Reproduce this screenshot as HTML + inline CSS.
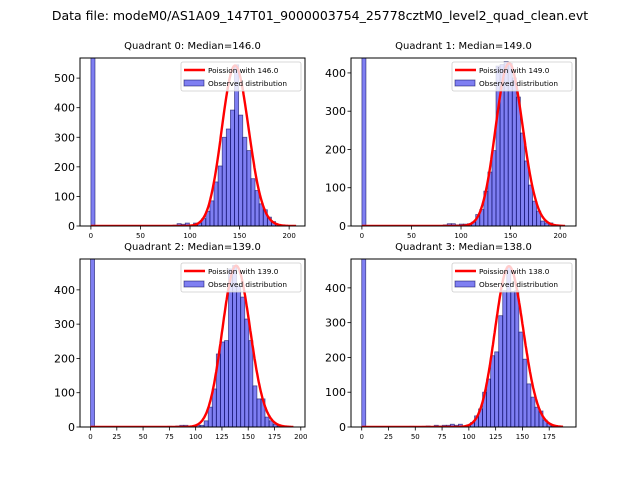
<!DOCTYPE html>
<html><head><meta charset="utf-8"><style>
body{margin:0;background:#fff;font-family:"Liberation Sans","DejaVu Sans",sans-serif}
</style></head><body>
<svg id="fig" width="640" height="480" xmlns="http://www.w3.org/2000/svg" font-family="DejaVu Sans, Liberation Sans, sans-serif">
<rect width="640" height="480" fill="#fff"/>
<text x="320" y="20" text-anchor="middle" font-size="12.5">Data file: modeM0/AS1A09_147T01_9000003754_25778cztM0_level2_quad_clean.evt</text>
</svg>
<script>
const medians=[146.0,149.0,139.0,138.0];
const binMax=[207,205,193,188];
const q0Counts=[1500,0,0,0,2,1,0,0,0,0,0,0,0,0,0,0,1,2,1,0,3,8,6,10,3,10,10,25,50,85,149,203,300,328,392,545,375,300,255,160,120,75,55,30,15,5,3,2,1,0];
const q1Counts=[1500,0,0,0,0,0,0,0,0,0,0,0,0,0,0,0,0,0,0,1,3,6,6,3,5,5,6,10,30,43,91,141,197,418,422,430,425,387,337,243,170,107,65,39,13,8,8,3,0,0];
const q2Counts=[1500,0,0,0,0,0,0,0,0,0,0,0,0,0,0,0,0,0,0,2,1,3,5,5,3,3,5,5,18,58,111,213,248,252,461,471,412,379,315,252,120,82,82,29,18,8,3,3,1,0];
const q3Counts=[1500,0,0,0,0,0,0,0,0,0,0,1,2,1,1,2,3,1,5,3,5,5,8,5,8,3,5,13,32,52,100,138,205,216,320,392,460,390,392,273,195,124,86,57,46,20,10,3,2,0];
const counts=[q0Counts,q1Counts,q2Counts,q3Counts];
const poissonPeak=[542,425,470,462];
const curveStretch=[1.12,1.12,1.12,1.12];
const xTicks=[[0,50,100,150,200],[0,50,100,150,200],[0,25,50,75,100,125,150,175,200],[0,25,50,75,100,125,150,175]];
const yTicks=[[0,100,200,300,400,500],[0,100,200,300,400],[0,100,200,300,400],[0,100,200,300,400]];
const xDomain=[[-11,216],[-11,216],[-10,204],[-10,200]];
const yMax=[568,439,490,483];
const boxes=[[80,58,225,168],[351,58,225,168],[80,259,225,168],[351,259,225,168]];
const NS="http://www.w3.org/2000/svg";
const svg=document.getElementById('fig');
function mk(tag,attrs,parent){const e=document.createElementNS(NS,tag);for(const k in attrs)e.setAttribute(k,attrs[k]);(parent||svg).appendChild(e);return e;}
function lgamma(z){const c=[76.18009172947146,-86.50532032941677,24.01409824083091,-1.231739572450155,0.1208650973866179e-2,-0.5395239384953e-5];let x=z,y=z,t=x+5.5;t-=(x+0.5)*Math.log(t);let s=1.000000000190015;for(let j=0;j<6;j++)s+=c[j]/++y;return -t+Math.log(2.5066282746310005*s/x);}
function pois(k,m){if(k<0)return 0;return Math.exp(k*Math.log(m)-m-lgamma(k+1));}
for(let q=0;q<4;q++){
  const [bx,by,bw,bh]=boxes[q];
  const g=mk('g',{});
  
  
  const xs=v=>bx+(v-xDomain[q][0])/(xDomain[q][1]-xDomain[q][0])*bw;
  const ys=v=>by+bh-v/yMax[q]*bh;
  const cid='clip'+q;
  const cp=mk('clipPath',{id:cid},g);mk('rect',{x:bx,y:by,width:bw,height:bh},cp);
  const bars=mk('g',{'clip-path':'url(#'+cid+')'},g);
  const n=counts[q].length,w=binMax[q]/n;
  counts[q].forEach((c,i)=>{if(c<=0)return;
    const r=mk('rect',{x:xs(i*w),y:ys(c),width:xs((i+1)*w)-xs(i*w),height:ys(0)-ys(c),fill:'rgba(0,0,230,0.5)',stroke:'rgba(0,0,80,0.6)','stroke-width':0.8},bars);
    
    
  });
  const m=medians[q],f=curveStretch[q],pk=pois(m,m);let d='';
  for(let k=0;k<=binMax[q];k+=0.5){const kk=m+(k-m)/f;d+=(k?'L':'M')+xs(k).toFixed(1)+','+ys(pois(kk,m)/pk*poissonPeak[q]).toFixed(1);}
  const pl=mk('path',{d:d,fill:'none',stroke:'#f00','stroke-width':2.4,'stroke-linejoin':'round'},bars);
  
  
  mk('rect',{x:bx,y:by,width:bw,height:bh,fill:'none',stroke:'#000','stroke-width':1},g);
  xTicks[q].forEach(t=>{const x=xs(t);mk('line',{x1:x,x2:x,y1:by+bh,y2:by+bh+3.5,stroke:'#000','stroke-width':0.8},g);
    const tx=mk('text',{x:x,y:by+bh+12,'text-anchor':'middle','font-size':7},g);tx.textContent=t;
    });
  yTicks[q].forEach(t=>{const y=ys(t);mk('line',{x1:bx-3.5,x2:bx,y1:y,y2:y,stroke:'#000','stroke-width':0.8},g);
    const tx=mk('text',{x:bx-5,y:y+4,'text-anchor':'end','font-size':11},g);tx.textContent=t;
    });
  const tt=mk('text',{x:bx+bw/2,y:by-9,'text-anchor':'middle','font-size':10},g);tt.textContent='Quadrant '+q+': Median='+m.toFixed(1);
  
  const lx=bx+bw-124,ly=by+4;
  const lg=mk('g',{},g);
  
  mk('rect',{x:lx,y:ly,width:120,height:29,rx:2,fill:'rgba(255,255,255,0.8)',stroke:'#ccc','stroke-width':0.8},lg);
  mk('line',{x1:lx+3,x2:lx+24,y1:ly+8,y2:ly+8,stroke:'#f00','stroke-width':2.4},lg);
  const t1=mk('text',{x:lx+27,y:ly+11,'font-size':7.3},lg);t1.textContent='Poission with '+m.toFixed(1);
  
  mk('rect',{x:lx+3,y:ly+18,width:20,height:6,fill:'rgba(0,0,230,0.5)',stroke:'rgba(0,0,80,0.6)','stroke-width':0.8},lg);
  const t2=mk('text',{x:lx+27,y:ly+24,'font-size':7.3},lg);t2.textContent='Observed distribution';
  
}
</script>
</body></html>
